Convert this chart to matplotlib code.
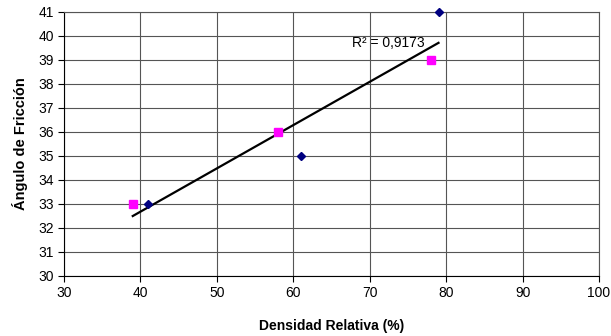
import numpy as np
import matplotlib

matplotlib.use('Agg')
import matplotlib.pyplot as plt

plt.rcParams['font.family'] = ['Liberation Sans', 'DejaVu Sans']

# Data
dens_a = [41, 61, 79]      # diamonds
ang_a = [33, 35, 41]
dens_b = [39, 58, 78]      # squares
ang_b = [33, 36, 39]
r2_label = 'R² = 0,9173'

x_ticks = list(range(30, 101, 10))
y_ticks = list(range(30, 42))

fig = plt.figure(figsize=(6.11, 3.36), dpi=100)
ax = fig.add_axes([0.1047, 0.1786, 0.8757, 0.7857])

# trendline fitted on all points
all_x = np.array(dens_a + dens_b)
all_y = np.array(ang_a + ang_b)
slope, icpt = np.polyfit(all_x, all_y, 1)
xs = np.array([all_x.min(), all_x.max()])
ax.plot(xs, slope * xs + icpt, color='black', linewidth=1.6, zorder=3)

ax.plot(dens_a, ang_a, linestyle='none', marker='D', markersize=3.8,
        color='#000080', zorder=4, clip_on=False)
ax.plot(dens_b, ang_b, linestyle='none', marker='s', markersize=5.8,
        color='#FF00FF', zorder=4, clip_on=False)

ax.text(67.7, 39.7, r2_label, fontsize=10, ha='left', va='center', zorder=5)

ax.set_xlim(30, 100)
ax.set_ylim(30, 41)
ax.set_xticks(x_ticks)
ax.set_yticks(y_ticks)
ax.tick_params(labelsize=10, length=4, width=0.8, direction='out', colors='black', pad=3)
ax.grid(True, color='#555555', linewidth=0.8)
ax.set_axisbelow(True)
for side in ['top', 'right']:
    ax.spines[side].set_color('#555555')
    ax.spines[side].set_linewidth(0.8)
for side in ['left', 'bottom']:
    ax.spines[side].set_color('black')
    ax.spines[side].set_linewidth(0.8)

ax.set_xlabel('Densidad Relativa (%)', fontsize=10, fontweight='bold', labelpad=14)
ax.set_ylabel('Ángulo de Fricción', fontsize=10.5, fontweight='bold', labelpad=8)

fig.savefig('out.png', dpi=100)
